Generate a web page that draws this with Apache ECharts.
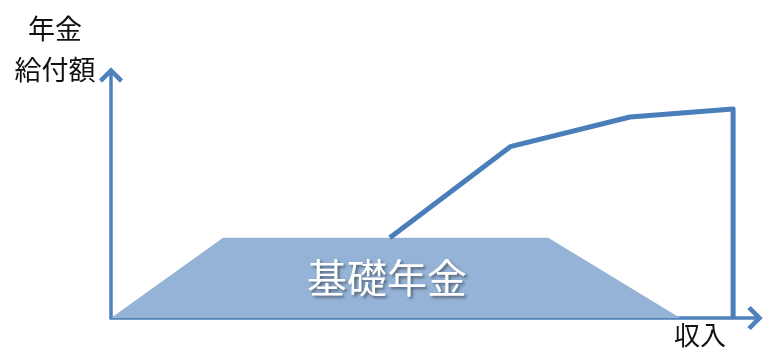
<!DOCTYPE html>
<html>
<head>
<meta charset="utf-8">
<script src="https://cdn.jsdelivr.net/npm/echarts@6/dist/echarts.min.js"></script>
<style>
  html, body { margin: 0; padding: 0; background: #fff; }
  #chart { width: 765px; height: 361px; }
</style>
</head>
<body>
<div id="chart"></div>
<script>
// 基礎年金 (台形) : [収入, 年金給付額]
const basicPension = [[0, 0], [17.4, 33], [67.9, 33], [88.4, 0]];
// 上乗せ部分の年金給付額
const pensionLine = [[43.3, 33], [62, 70.5], [80.6, 82.7], [96.6, 86], [96.6, 0]];
const yName = '年金\n給付額';
const xName = '収入';
const areaLabel = '基礎年金';

const font = '"Noto Sans CJK JP", "Noto Sans CJK SC", sans-serif';
const axisColor = '#4f81bd';
const chevron = 'path://M12 0 L24 12 L21 15.5 L12 6.5 L3 15.5 L0 12 Z';

const chart = echarts.init(document.getElementById('chart'));
chart.setOption({
  animation: false,
  grid: { left: 111, right: 10, top: 75, bottom: 43 },
  xAxis: {
    type: 'value',
    min: 0,
    max: 100,
    axisLine: {
      show: true,
      symbol: ['none', chevron],
      symbolSize: [24, 15.5],
      lineStyle: { color: axisColor, width: 3.5 }
    },
    axisTick: { show: false },
    axisLabel: { show: false },
    splitLine: { show: false }
  },
  yAxis: {
    type: 'value',
    min: 0,
    max: 100,
    axisLine: {
      show: true,
      symbol: ['none', chevron],
      symbolSize: [24, 15.5],
      lineStyle: { color: axisColor, width: 3.5 }
    },
    axisTick: { show: false },
    axisLabel: { show: false },
    splitLine: { show: false }
  },
  series: [
    {
      type: 'line',
      data: basicPension,
      showSymbol: false,
      lineStyle: { width: 0 },
      itemStyle: { color: '#95b3d7' },
      areaStyle: { color: '#95b3d7', opacity: 1 },
      z: 2
    },
    {
      type: 'line',
      data: pensionLine,
      showSymbol: false,
      lineStyle: { color: '#4a7ebb', width: 5, join: 'round' },
      z: 3
    }
  ],
  graphic: [
    {
      type: 'text',
      x: 55,
      y: 8,
      style: {
        text: yName,
        font: '27px ' + font,
        fill: '#111',
        align: 'center',
        lineHeight: 41
      }
    },
    {
      type: 'text',
      x: 700,
      y: 322,
      style: {
        text: xName,
        font: '26px ' + font,
        fill: '#111',
        align: 'center'
      }
    },
    {
      type: 'text',
      x: 387,
      y: 258,
      z: 10,
      style: {
        text: areaLabel,
        font: '40px ' + font,
        fill: '#fff',
        align: 'center',
        textShadowColor: 'rgba(0,0,0,0.45)',
        textShadowBlur: 3,
        textShadowOffsetX: 2,
        textShadowOffsetY: 2
      }
    }
  ]
});
</script>
</body>
</html>
